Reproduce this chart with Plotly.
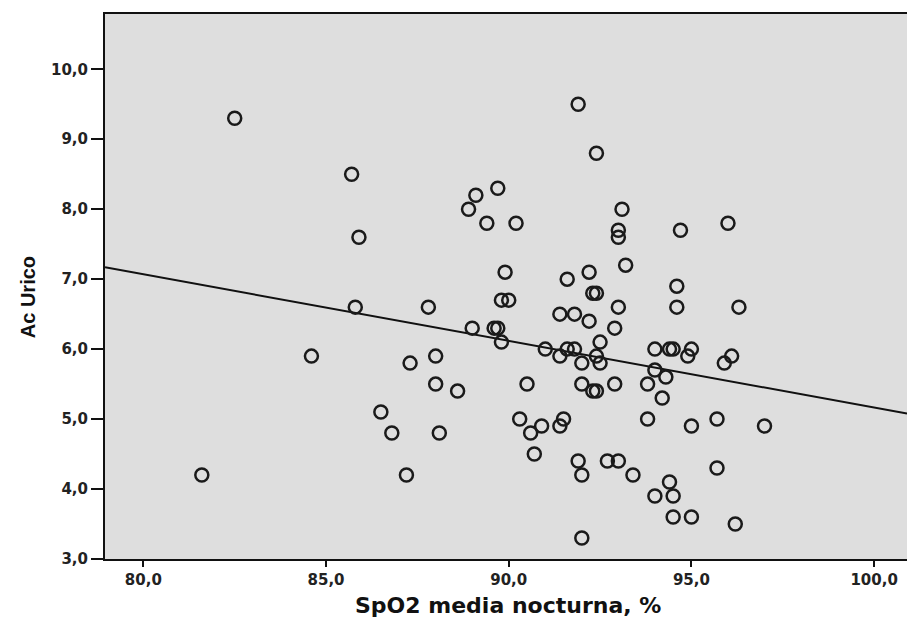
import plotly.graph_objects as go

# SpO2 media nocturna (%) and Ac Urico values
spo2 = [
    82.5, 85.7, 85.9, 91.9, 92.4, 89.7, 89.1, 88.9, 89.4, 90.2,
    93.1, 93.0, 93.0, 94.7, 96.0, 93.2, 89.9, 91.6, 92.2, 94.6,
    92.3, 92.4, 89.8, 90.0, 85.8, 87.8, 93.0, 94.6, 96.3, 91.4,
    91.8, 92.2, 89.0, 89.6, 89.7, 92.9, 89.8, 92.5, 91.0, 91.6,
    91.8, 94.0, 94.4, 94.5, 95.0, 84.6, 88.0, 91.4, 92.4, 94.9,
    96.1, 87.3, 92.0, 92.5, 95.9, 94.0, 94.3, 88.0, 88.6, 90.5,
    92.0, 92.3, 92.4, 92.9, 93.8, 94.2, 86.5, 90.3, 91.5, 93.8,
    95.7, 90.9, 91.4, 95.0, 97.0, 86.8, 88.1, 90.6, 90.7, 91.9,
    92.7, 93.0, 81.6, 87.2, 92.0, 93.4, 95.7, 94.4, 94.0, 94.5,
    94.5, 95.0, 96.2, 92.0,
]
acido_urico = [
    9.3, 8.5, 7.6, 9.5, 8.8, 8.3, 8.2, 8.0, 7.8, 7.8,
    8.0, 7.7, 7.6, 7.7, 7.8, 7.2, 7.1, 7.0, 7.1, 6.9,
    6.8, 6.8, 6.7, 6.7, 6.6, 6.6, 6.6, 6.6, 6.6, 6.5,
    6.5, 6.4, 6.3, 6.3, 6.3, 6.3, 6.1, 6.1, 6.0, 6.0,
    6.0, 6.0, 6.0, 6.0, 6.0, 5.9, 5.9, 5.9, 5.9, 5.9,
    5.9, 5.8, 5.8, 5.8, 5.8, 5.7, 5.6, 5.5, 5.4, 5.5,
    5.5, 5.4, 5.4, 5.5, 5.5, 5.3, 5.1, 5.0, 5.0, 5.0,
    5.0, 4.9, 4.9, 4.9, 4.9, 4.8, 4.8, 4.8, 4.5, 4.4,
    4.4, 4.4, 4.2, 4.2, 4.2, 4.2, 4.3, 4.1, 3.9, 3.9,
    3.6, 3.6, 3.5, 3.3,
]

# Fit line end points
fit_x = [78.95, 100.9]
fit_y = [7.17, 5.08]

x_ticks = [80, 85, 90, 95, 100]
y_ticks = [3, 4, 5, 6, 7, 8, 9, 10]

x_title = "SpO2 media nocturna, %"
y_title = "Ac Urico"

fig = go.Figure()
fig.add_trace(go.Scatter(
    x=fit_x, y=fit_y, mode="lines",
    line=dict(color="#111111", width=2),
    showlegend=False, hoverinfo="skip",
))
fig.add_trace(go.Scatter(
    x=spo2, y=acido_urico, mode="markers",
    marker=dict(symbol="circle-open", size=13, color="#1a1a1a",
                line=dict(width=2.5, color="#1a1a1a")),
    showlegend=False,
))

tick_font = dict(family="DejaVu Sans, Liberation Sans, Arial, sans-serif", size=15,
                 color="#222222", weight="bold")

fig.update_layout(
    width=907, height=619,
    margin=dict(l=105, r=0, t=14, b=60, autoexpand=False),
    paper_bgcolor="white",
    plot_bgcolor="#dedede",
    separators=",.",
    font=dict(family="Liberation Sans, Arial, sans-serif", color="#111111"),
    xaxis=dict(
        range=[78.95, 100.9], tickvals=x_ticks, tickformat=".1f",
        showgrid=False, zeroline=False, automargin=False,
        showline=True, linecolor="#111111", linewidth=2, mirror=True,
        ticks="outside", ticklen=6, tickwidth=2, tickcolor="#111111",
        tickfont=tick_font,
    ),
    yaxis=dict(
        range=[3.0, 10.79], tickvals=y_ticks, tickformat=".1f",
        showgrid=False, zeroline=False, automargin=False,
        showline=True, linecolor="#111111", linewidth=2,
        ticks="outside", ticklen=12, tickwidth=2, tickcolor="#111111",
        tickfont=tick_font,
    ),
    annotations=[
        dict(text=x_title, xref="paper", yref="paper", x=0.503, y=-0.085,
             xanchor="center", yanchor="middle", showarrow=False,
             font=dict(family="DejaVu Sans, Liberation Sans, Arial, sans-serif", size=22,
                       color="#111111", weight="bold")),
        dict(text=y_title, xref="paper", yref="paper", x=-0.095, y=0.48,
             xanchor="center", yanchor="middle", showarrow=False, textangle=-90,
             font=dict(family="Liberation Sans Narrow, Arial Narrow, Liberation Sans, sans-serif",
                       size=20, color="#111111", weight="bold")),
    ],
)

fig.write_html("out.html", config={"displayModeBar": False},
               post_script="document.body.style.margin='0';")
